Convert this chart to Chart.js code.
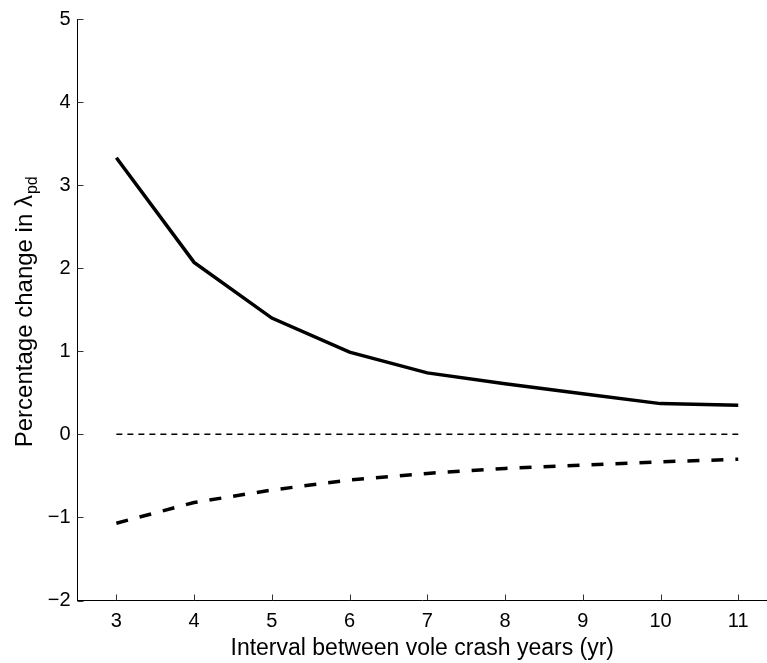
<!DOCTYPE html>
<html>
<head>
<meta charset="utf-8">
<script src="https://cdn.jsdelivr.net/npm/chart.js@4.4.1/dist/chart.umd.min.js"></script>
<style>
  html, body { margin: 0; padding: 0; background: #fff; }
  canvas { display: block; }
</style>
</head>
<body>
<canvas id="c" width="767" height="663"></canvas>
<script>
// ---- data ----
const intervals = [3, 4, 5, 6, 7, 8, 9, 10, 11];
const solidSeries = [3.33, 2.07, 1.40, 0.99, 0.74, 0.61, 0.49, 0.37, 0.35];
const dashedSeries = [-1.07, -0.82, -0.67, -0.55, -0.47, -0.41, -0.37, -0.33, -0.30];
const zeroSeries = [0, 0, 0, 0, 0, 0, 0, 0, 0];
const xTicks = [3, 4, 5, 6, 7, 8, 9, 10, 11];
const yTicks = [-2, -1, 0, 1, 2, 3, 4, 5];
const xTitle = 'Interval between vole crash years (yr)';
const yTitleMain = 'Percentage change in \u03bb';
const yTitleSub = 'pd';

const FONT = '"Liberation Sans", Arial, Helvetica, sans-serif';

const pts = (ys) => intervals.map((x, i) => ({ x: x, y: ys[i] }));

const innerTicks = {
  id: 'innerTicks',
  afterDraw(chart) {
    const ctx = chart.ctx;
    const xs = chart.scales.x, ys = chart.scales.y;
    const area = chart.chartArea;
    ctx.save();
    ctx.strokeStyle = '#333';
    ctx.lineWidth = 1;
    ctx.beginPath();
    xTicks.forEach(v => {
      const px = Math.round(xs.getPixelForValue(v)) + 0.5;
      ctx.moveTo(px, area.bottom);
      ctx.lineTo(px, area.bottom - 6);
    });
    yTicks.forEach(v => {
      const py = Math.round(ys.getPixelForValue(v)) + 0.5;
      ctx.moveTo(area.left, py);
      ctx.lineTo(area.left + 6, py);
    });
    ctx.stroke();

    // y axis title with subscript
    const mainSize = 24, subSize = 16;
    ctx.fillStyle = '#000';
    ctx.textBaseline = 'alphabetic';
    ctx.font = mainSize + 'px ' + FONT;
    const w1 = ctx.measureText(yTitleMain).width;
    ctx.font = subSize + 'px ' + FONT;
    const w2 = ctx.measureText(yTitleSub).width;
    const total = w1 + 1 + w2;
    const cy = (area.top + area.bottom) / 2 + 2;
    ctx.translate(32, cy);
    ctx.rotate(-Math.PI / 2);
    ctx.textAlign = 'left';
    ctx.font = mainSize + 'px ' + FONT;
    ctx.fillText(yTitleMain, -total / 2, 0);
    ctx.font = subSize + 'px ' + FONT;
    ctx.fillText(yTitleSub, -total / 2 + w1 + 1, 5);
    ctx.restore();
  }
};

new Chart(document.getElementById('c'), {
  type: 'line',
  data: {
    datasets: [
      { data: pts(solidSeries), borderColor: '#000', borderWidth: 3.5, pointRadius: 0, tension: 0, fill: false, borderCapStyle: 'butt' },
      { data: pts(dashedSeries), borderColor: '#000', borderWidth: 3.5, borderDash: [12, 12], pointRadius: 0, tension: 0, fill: false },
      { data: pts(zeroSeries), borderColor: '#000', borderWidth: 1.5, borderDash: [6, 5], pointRadius: 0, tension: 0, fill: false }
    ]
  },
  options: {
    responsive: false,
    animation: false,
    devicePixelRatio: 1,
    layout: { padding: { top: 16.7, right: 0, bottom: 0, left: 0 } },
    plugins: { legend: { display: false }, tooltip: { enabled: false } },
    scales: {
      x: {
        type: 'linear',
        min: 2.5,
        max: 11.37,
        afterBuildTicks: (s) => { s.ticks = xTicks.map(v => ({ value: v })); },
        afterFit: (s) => { s.height = 62.5; },
        grid: { display: false, drawTicks: false },
        border: { display: true, color: '#000', width: 1 },
        ticks: { color: '#000', font: { family: FONT, size: 20 }, padding: 9, maxRotation: 0, autoSkip: false },
        title: { display: true, text: xTitle, color: '#000', font: { family: FONT, size: 23 }, padding: { top: 0, bottom: 1 } }
      },
      y: {
        type: 'linear',
        min: -2,
        max: 5,
        afterBuildTicks: (s) => { s.ticks = yTicks.map(v => ({ value: v })); },
        afterFit: (s) => { s.width = 77.5; },
        grid: { display: false, drawTicks: false },
        border: { display: true, color: '#000', width: 1 },
        ticks: {
          color: '#000', font: { family: FONT, size: 20 }, padding: 7,
          callback: (v) => v < 0 ? '\u2212' + Math.abs(v) : String(v)
        },
        title: { display: false }
      }
    }
  },
  plugins: [innerTicks]
});
</script>
</body>
</html>
